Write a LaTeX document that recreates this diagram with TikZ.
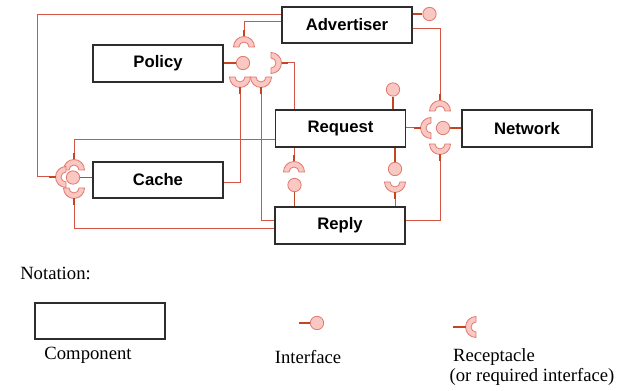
\documentclass[tikz,border=0pt]{standalone}
\usepackage{fontspec}
\setmainfont{Liberation Serif}
\newfontfamily\boxfont{Liberation Sans}
\definecolor{boxcol}{RGB}{45,45,45}
\definecolor{wirecol}{RGB}{210,85,70}
\definecolor{stubcol}{RGB}{195,70,35}
\definecolor{symedge}{RGB}{225,120,110}
\definecolor{symfill}{RGB}{250,200,195}
\tikzset{
  comp/.style={draw=boxcol,line width=1.3pt,minimum width=97.5pt,minimum height=27.5pt,
    inner sep=0pt,font=\boxfont\bfseries\fontsize{12.5}{15}\selectfont},
  iface/.style={circle,draw=symedge,fill=symfill,line width=0.6pt,minimum size=10pt,inner sep=0pt},
  stub/.style={draw=stubcol,line width=1.4pt},
  wire/.style={draw=wirecol,line width=0.75pt},
  legtext/.style={inner sep=0pt,font=\fontsize{14}{16}\selectfont},
  recep/.pic={
    \filldraw[draw=symedge,fill=symfill,line width=0.6pt]
      (#1+90:10.5) arc[start angle=#1+90,end angle=#1+270,radius=10.5]
      -- (#1+270:5) arc[start angle=#1+270,end angle=#1+90,radius=5] -- cycle;
    \draw[stub] (#1+180:10.5) -- (#1+180:17) coordinate (-s);
  }
}
\begin{document}
\begin{tikzpicture}[x=0.75pt,y=-0.75pt]
  \useasboundingbox (0,0) rectangle (625,391);

  \begin{scope}[every node/.style={comp}]
    \node (adv) at (347,25)    {Advertiser};
    \node (pol) at (158,63.5)  {Policy};
    \node (req) at (340.5,128.5) {Request};
    \node (net) at (527,128.5) {Network};
    \node (cac) at (158,180)   {Cache};
    \node (rep) at (340,225.5) {Reply};
  \end{scope}

  \pic (rp1) at (244,47)  {recep=90};
  \pic (rp2) at (271,63)  {recep=180};
  \pic (rp3) at (240,77)  {recep=270};
  \pic (rp4) at (261,77)  {recep=270};
  \pic (rc1) at (74,170)  {recep=90};
  \pic (rc2) at (66,177)  {recep=0};
  \pic (rc3) at (74,188)  {recep=270};
  \pic (rn1) at (440,111) {recep=90};
  \pic (rn2) at (431,128) {recep=0};
  \pic (rn3) at (440,144) {recep=270};
  \pic (rq1) at (294,172) {recep=90};
  \pic (rr1) at (395,182) {recep=270};

  \begin{scope}[every node/.style={iface}]
    \node (i-adv)  at (429.5,14) {};
    \node (i-pol)  at (243,63)   {};
    \node (i-cac)  at (73,177.5) {};
    \node (i-net)  at (443,128)  {};
    \node (i-reqt) at (393,89.5) {};
    \node (i-reqb) at (395,169)  {};
    \node (i-rep)  at (294.5,185) {};
  \end{scope}

  \begin{scope}[every path/.style={stub}]
    \path (adv.east |- i-adv) -- (i-adv.west);
    \path (pol.east |- i-pol) -- (i-pol.west);
    \path (cac.west |- i-cac) -- (i-cac.east);
    \path (net.west |- i-net) -- (i-net.east);
    \path (req.north -| i-reqt) -- (i-reqt.south);
    \path (req.south -| i-reqb) -- (i-reqb.north);
    \path (rep.north -| i-rep) -- (i-rep.south);
  \end{scope}

  \begin{scope}[every path/.style={wire}]
    \path (rp1-s) |- ([yshift=2.25pt]adv.west);
    \path (rp2-s) -| ([xshift=15pt]req.north west);
    \path (rp3-s) |- ([yshift=-2.25pt]cac.east);
    \path (rp4-s) |- ([yshift=3.4pt]rep.west);
    \path (rc1-s) |- ([yshift=-8.6pt]req.west);
    \path (rc2-s) -- ++(-12,0) |- ([yshift=7.5pt]adv.west);
    \path (rc3-s) |- ([yshift=-1.9pt]rep.west);
    \path (rn1-s) |- ([yshift=-3pt]adv.east);
    \path (rn2-s) -- (req.east |- rn2-s);
    \path (rn3-s) |- ([yshift=4pt]rep.east);
    \path (rq1-s) -- (req.south -| rq1-s);
    \path (rr1-s) -- (rep.north -| rr1-s);
  \end{scope}

  \node[legtext,anchor=west] (notation) at (20,273) {Notation:};
  \node[comp] (lbox) at (100,321) {};
  \node[legtext] (lcomp) at (88,355) {Component};

  \coordinate (li-s) at (299,323);
  \node[iface] (li) at (317,323) {};
  \draw[stub] (li-s) -- (li.west);
  \node[legtext] (liface) at (308,357) {Interface};

  \pic (lr) at (476,327) {recep=0};
  \coordinate (lr-e) at (453,327);
  \draw[stub] (lr-s) -- (lr-e);
  \node[legtext] (lrecep) at (494,357) {Receptacle};
  \node[legtext] (lreq) at (532,377) {(or required interface)};
\end{tikzpicture}
\end{document}
